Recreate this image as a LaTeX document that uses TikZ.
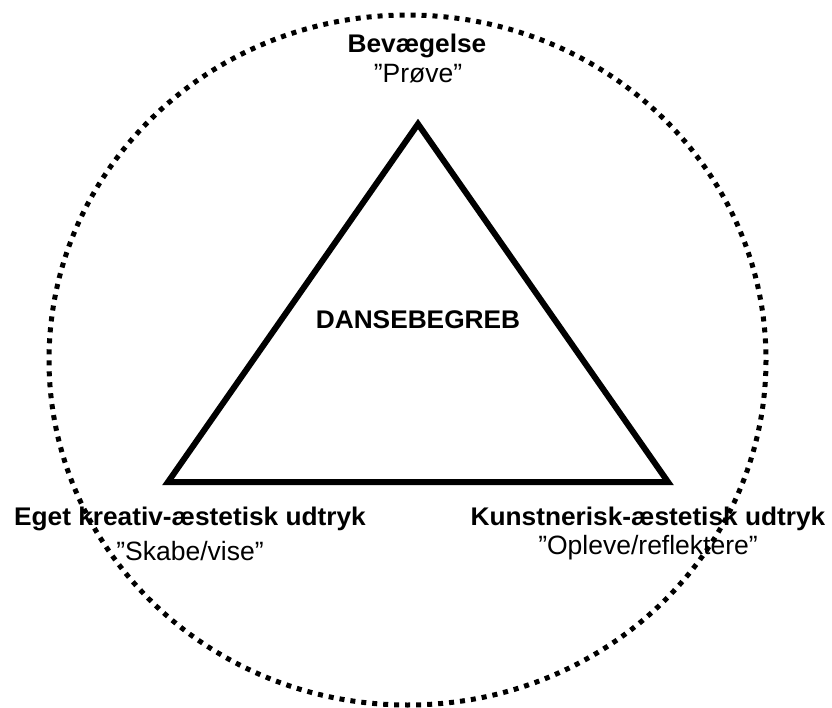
\documentclass[tikz,border=0pt]{standalone}
\usepackage{fontspec}
\setmainfont{Liberation Sans}
\begin{document}
\begin{tikzpicture}[x=1pt,y=-1pt,
  lbl/.style={inner sep=0pt,anchor=base,transform shape},
  boldlbl/.style={lbl,xscale=1.03,font=\fontsize{25.5}{30}\selectfont\bfseries},
  normlbl/.style={lbl,xscale=1.0,font=\fontsize{26.5}{30}\selectfont},
  tri/.style={line width=6pt,line join=miter},
  ring/.style={line width=5pt,dash pattern=on 5pt off 6pt}]
\useasboundingbox (0,0) rectangle (832,708);
\fill[white] (0,0) rectangle (832,708);
\coordinate (A) at (418,124);
\coordinate (L) at (168,482);
\coordinate (R) at (668,482);
\draw[tri] (A) -- (L) -- (R) -- cycle;
\node[boldlbl] (top) at (417,53) {Bevægelse};
\node[normlbl] (topsub) at (418,83) {”Prøve”};
\node[boldlbl] (mid) at (418,328) {DANSEBEGREB};
\node[boldlbl] (left) at (190,525) {Eget kreativ-æstetisk udtryk};
\node[normlbl] (leftsub) at (190,560) {”Skabe/vise”};
\node[boldlbl] (right) at (648,525) {Kunstnerisk-æstetisk udtryk};
\node[normlbl] (rightsub) at (648,554) {”Opleve/reflektere”};
\draw[ring] (407.5,360) ellipse [x radius=358.5, y radius=345];
\end{tikzpicture}
\end{document}
